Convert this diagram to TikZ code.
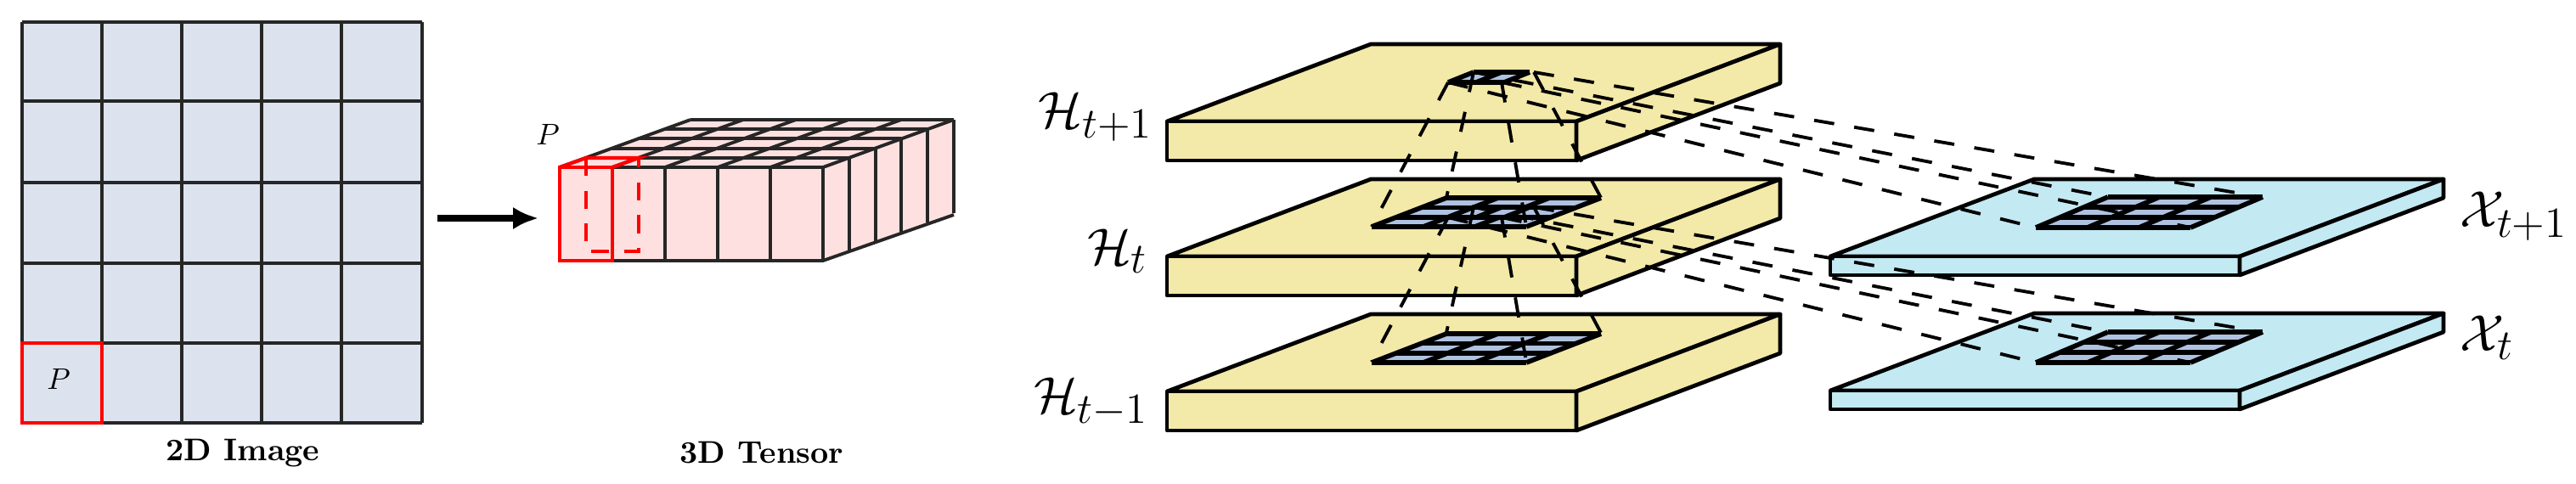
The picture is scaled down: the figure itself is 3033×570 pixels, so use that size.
\documentclass[tikz,border=0pt]{standalone}
\usepackage{amsmath, amssymb}
\usepackage{tikz}
\usetikzlibrary{calc, arrows.meta}

\definecolor{imgblue}{HTML}{DCE3EE}
\definecolor{tensorpink}{HTML}{FFE0E0}
\definecolor{slabyellow}{HTML}{F3E9A8}
\definecolor{slabcyan}{HTML}{C3E9F3}
\definecolor{patchblue}{HTML}{AFC2E0}

\tikzset{
  gridline/.style={line width=1.1pt, black!85},
  slabline/.style={line width=1.35pt, black, line join=round},
  patchline/.style={line width=1.6pt, black},
  dashline/.style={line width=1.1pt, black, dash pattern=on 6.8pt off 6.8pt},
  redline/.style={line width=1.2pt, red},
  biglabel/.style={font=\fontsize{19}{21}\selectfont, inner sep=0pt},
  caption/.style={font=\fontsize{10.5}{12}\selectfont\bfseries},
}

% #1,#2 front left top corner, #3 height, #4 colour
\newcommand{\slab}[4]{
  \draw[slabline, fill=#4] (#1,#2) -- ++(240,-91) -- ++(482,0) -- ++(-240,91) -- cycle;
  \draw[slabline, fill=#4] (#1,#2) rectangle ++(482,#3);
  \draw[slabline, fill=#4] ($(#1,#2)+(482,0)$) -- ++(240,-91) -- ++(0,#3) -- ++(-240,91) -- cycle;
}
% #1,#2 lower left corner, #3 cells, #4 rows, #5 cell width, #6,#7 depth of a cell
\newcommand{\patchgrid}[7]{
  \begin{scope}[shift={(#1,#2)}]
    \fill[patchblue] (0,0) -- ++({#3*#5},0) -- ++({#4*#6},{#4*#7}) -- ++({-#3*#5},0) -- cycle;
    \foreach \c in {0,...,#3}
      \draw[patchline] ({\c*#5},0) -- ++({#4*#6},{#4*#7});
    \foreach \r in {0,...,#4}
      \draw[patchline] ({\r*#6},{\r*#7}) -- ++({#3*#5},0);
  \end{scope}
}

\begin{document}
\begin{tikzpicture}[x=0.01cm, y=-0.01cm]
  \useasboundingbox (0,0) rectangle (3033,570);

  % 2D image
  \fill[imgblue] (26,26) rectangle (497,498);
  \foreach \x in {26,120,214,308,402,497}
    \draw[gridline] (\x,26) -- (\x,498);
  \foreach \y in {26,119,215,310,404,498}
    \draw[gridline] (26,\y) -- (497,\y);
  \draw[redline] (26,404) rectangle (120,498);
  \node (imgP) at (69,446) {$P$};
  \node[caption] (imgcap) at (286,534) {2D Image};

  % Arrow
  \coordinate (arrowstart) at (515,257);
  \coordinate (arrowend) at (634,257);
  \draw[line width=2pt, -{Latex[length=8.5pt,width=7.5pt]}] (arrowstart) -- (arrowend);

  % 3D tensor
  \fill[tensorpink] (659,197) -- (813,141) -- (1123,141) -- (1123,253) -- (969,307) -- (659,307) -- cycle;
  \foreach \i in {0,...,5} {
    \draw[gridline] ({659+\i*62},197) -- ++(154,-56);
    \draw[gridline] ({659+\i*62},197) -- ++(0,110);
    \draw[gridline] ({659+\i*30.8},{197-\i*11.2}) -- ++(310,0);
    \draw[gridline] ({969+\i*30.8},{197-\i*11.2}) -- ++(0,110);
  }
  \draw[gridline] (659,307) -- (969,307) -- (1123,253);
  % Patch P in the tensor
  \draw[redline] (659,197) rectangle (721,307);
  \draw[redline] (659,197) -- (690,186) -- (752,186) -- (721,197);
  \draw[redline, dash pattern=on 6pt off 5pt] (690,186) -- (690,296) -- (752,296) -- (752,186);
  \node (tensorP) at (645,158) {$P$};
  \node[caption] (tensorcap) at (897,533) {3D Tensor};

  % Hidden states
  \slab{1374}{143}{46}{slabyellow}
  \slab{1374}{302}{46}{slabyellow}
  \slab{1374}{461}{46}{slabyellow}
  \node[biglabel, anchor=east] (Hup) at (1358,138) {$\mathcal{H}_{t+1}$};
  \node[biglabel, anchor=east] (Hmid) at (1352,296) {$\mathcal{H}_{t}$};
  \node[biglabel, anchor=east] (Hlow) at (1353,474) {$\mathcal{H}_{t-1}$};

  % Inputs
  \slab{2155}{302}{22}{slabcyan}
  \slab{2155}{460}{22}{slabcyan}
  \node[biglabel, anchor=west] (Xup) at (2896,255) {$\mathcal{X}_{t+1}$};
  \node[biglabel, anchor=west] (Xlow) at (2896,398) {$\mathcal{X}_{t}$};

  % Patches
  \patchgrid{1705}{97}{2}{1}{33}{30}{-12}
  \patchgrid{1615}{267}{3}{3}{60.7}{29.3}{-11.3}
  \patchgrid{1615}{427}{3}{3}{60.7}{29.3}{-11.3}
  \patchgrid{2397}{268}{3}{3}{60.7}{28.3}{-12}
  \patchgrid{2397}{427}{3}{3}{60.7}{28.3}{-12}
  \patchgrid{1705}{256}{2}{1}{33}{30}{-12}

  % Projections
  \foreach \n/\s in {up/0,low/159} {
    \begin{scope}[shift={(0,\s)}]
      \coordinate (sbl\n) at (1705,97);
      \coordinate (sbr\n) at (1768,97);
      \coordinate (stl\n) at (1735,85);
      \coordinate (str\n) at (1806,85);
      \coordinate (hbl\n) at (1615,267);
      \coordinate (hbr\n) at (1797,267);
      \coordinate (htl\n) at (1703,233);
      \coordinate (htr\n) at (1885,233);
      \coordinate (xbl\n) at (2397,268);
      \coordinate (xbr\n) at (2579,268);
      \coordinate (xtl\n) at (2481,232);
      \coordinate (xtr\n) at (2662,232);
      \draw[dashline] (sbl\n) -- (hbl\n);
      \draw[dashline] (sbr\n) -- (hbr\n);
      \draw[dashline] (stl\n) -- (htl\n);
      \draw[dashline] (str\n) -- (htr\n);
      \draw[dashline] (sbl\n) -- (xbl\n);
      \draw[dashline] (sbr\n) -- (xbr\n);
      \draw[dashline] (stl\n) -- (xtl\n);
      \draw[dashline] (str\n) -- (xtr\n);
    \end{scope}
  }
\end{tikzpicture}
\end{document}
